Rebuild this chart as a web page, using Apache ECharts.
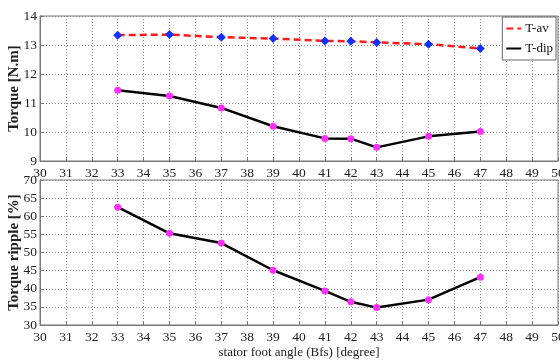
<!DOCTYPE html>
<html>
<head>
<meta charset="utf-8">
<script src="https://cdn.jsdelivr.net/npm/echarts@6/dist/echarts.min.js"></script>
<style>html,body{margin:0;padding:0;background:#fff;}#c{width:560px;height:360px;}</style>
</head>
<body>
<div id="c"></div>
<script>
const angles = [33, 35, 37, 39, 41, 42, 43, 45, 47];
const tAv = [13.34, 13.36, 13.27, 13.22, 13.14, 13.13, 13.09, 13.03, 12.88];
const tDip = [11.44, 11.24, 10.83, 10.20, 9.78, 9.77, 9.47, 9.85, 10.02];
const ripple = [62.5, 55.3, 52.6, 45.1, 39.4, 36.4, 34.8, 37.0, 43.2];
const xTicks = {min: 30, max: 50, interval: 1};
const yTopTicks = {min: 9, max: 14, interval: 1};
const yBotTicks = {min: 30, max: 70, interval: 5};

const font = '"Liberation Serif", "DejaVu Serif", serif';
const pair = (xs, ys) => xs.map((x, i) => [x, ys[i]]);

const axisLabel = {fontFamily: font, fontSize: 13.5, color: '#222', margin: 3};
const splitLine = {show: true, lineStyle: {type: [1, 2], color: '#8a8a8a', width: 1}};
const axisLine = {show: true, lineStyle: {color: '#777', width: 1}};
const axisTick = {show: true, inside: true, length: 4, lineStyle: {color: '#777'}};

function xAxis(gi, showName) {
  return {
    type: 'value', gridIndex: gi, min: xTicks.min, max: xTicks.max, interval: xTicks.interval,
    axisLabel: Object.assign({}, axisLabel, {margin: 5}), splitLine: splitLine, axisLine: axisLine, axisTick: axisTick,
    name: showName ? 'stator foot angle (Bfs) [degree]' : '',
    nameLocation: 'middle', nameGap: 21,
    nameTextStyle: {fontFamily: font, fontSize: 13, color: '#222'}
  };
}
function yAxis(gi, t, name) {
  return {
    type: 'value', gridIndex: gi, min: t.min, max: t.max, interval: t.interval,
    axisLabel: axisLabel, splitLine: splitLine, axisLine: axisLine, axisTick: axisTick,
    name: name, nameLocation: 'middle', nameGap: 18, nameRotate: 90, nameMoveOverlap: false,
    nameTextStyle: {fontFamily: font, fontSize: 15, fontWeight: 'bold', color: '#222'}
  };
}

const gridBase = {left: 40, width: 518, height: 145, show: true, borderColor: '#777', borderWidth: 1,
  backgroundColor: 'transparent', containLabel: false, outerBoundsMode: 'none'};

const chart = echarts.init(document.getElementById('c'), null, {renderer: 'canvas'});
chart.setOption({
  animation: false,
  backgroundColor: '#fff',
  grid: [
    Object.assign({}, gridBase, {top: 16}),
    Object.assign({}, gridBase, {top: 180})
  ],
  xAxis: [xAxis(0, false), xAxis(1, true)],
  yAxis: [yAxis(0, yTopTicks, 'Torque [N.m]'), yAxis(1, yBotTicks, 'Torque ripple [%]')],
  legend: {
    orient: 'vertical', right: 4, top: 17,
    backgroundColor: '#fff', borderColor: '#666', borderWidth: 1,
    padding: [5, 3, 5, 3], itemGap: 7, itemWidth: 15, itemHeight: 12,
    itemStyle: {opacity: 0},
    textStyle: {fontFamily: font, fontSize: 13, color: '#111', padding: [0, 0, 0, -1]},
    data: ['T-av', 'T-dip']
  },
  series: [
    {
      name: 'T-av', type: 'line', xAxisIndex: 0, yAxisIndex: 0,
      data: pair(angles, tAv),
      lineStyle: {color: '#ff1a1a', width: 2.5, type: [7, 4]},
      itemStyle: {color: '#1030ff'},
      symbol: 'diamond', symbolSize: 9, z: 3
    },
    {
      name: 'T-dip', type: 'line', xAxisIndex: 0, yAxisIndex: 0,
      data: pair(angles, tDip),
      lineStyle: {color: '#000', width: 2.5},
      itemStyle: {color: '#ff30ff'},
      symbol: 'circle', symbolSize: 7, z: 3
    },
    {
      name: 'ripple', type: 'line', xAxisIndex: 1, yAxisIndex: 1,
      data: pair(angles, ripple),
      lineStyle: {color: '#000', width: 2.5},
      itemStyle: {color: '#ff30ff'},
      symbol: 'circle', symbolSize: 7, z: 3
    }
  ]
});
</script>
</body>
</html>
